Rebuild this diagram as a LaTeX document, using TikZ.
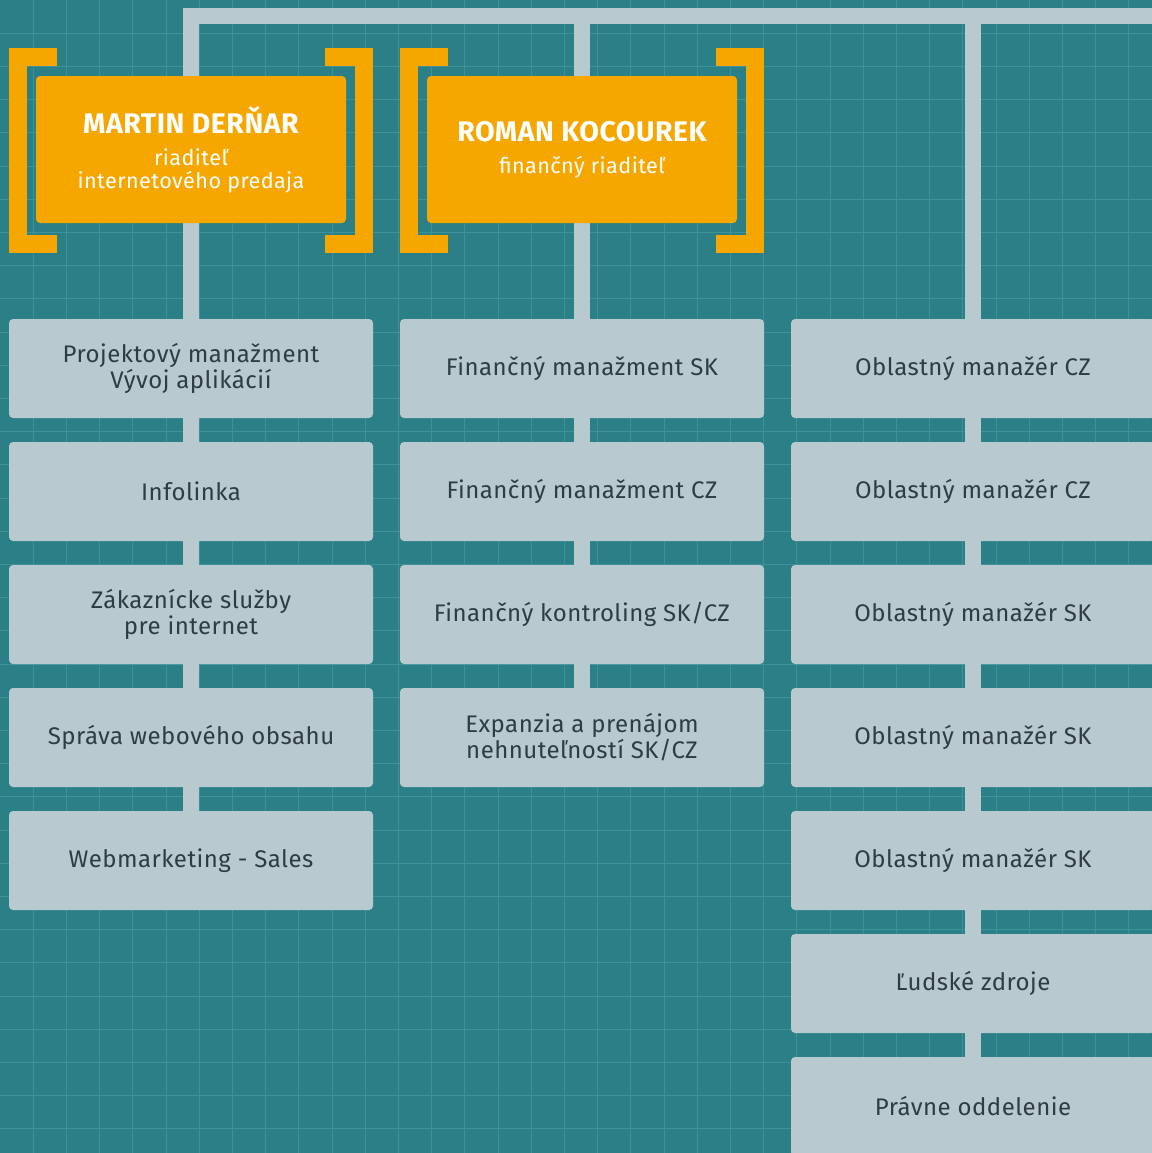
\documentclass[tikz,border=0pt]{standalone}
\usepackage{fontspec}
\usepackage{tikz}
\usetikzlibrary{positioning,backgrounds,calc}
\newfontfamily\unitfont{Fira Sans}[LetterSpace=2]
\definecolor{gridTeal}{HTML}{2B7F87}
\definecolor{gridLine}{HTML}{3F9198}
\definecolor{unitGray}{HTML}{B9C9D0}
\definecolor{headOrange}{HTML}{F5A700}
\definecolor{textDark}{HTML}{2F3C44}
\tikzset{
  unit/.style={fill=unitGray, rounded corners=2pt, minimum width=182pt, minimum height=49.5pt,
    inner sep=0pt, outer sep=0pt, align=center, text=textDark, font=\unitfont\fontsize{12}{13}\selectfont},
  head/.style={fill=headOrange, rounded corners=2pt, minimum width=155pt, minimum height=73.5pt,
    inner sep=0pt, outer sep=0pt, align=center, text=white, font=\unitfont\fontsize{10.8}{11.5}\selectfont},
  link/.style={draw=unitGray, line width=8pt},
  bracket/.style={draw=headOrange, line width=9pt}
}

\begin{document}
\begin{tikzpicture}[x=0.5pt, y=-0.5pt, node distance=12pt]
  \useasboundingbox (0,0) rectangle (1152,1153);
  \clip (0,0) rectangle (1152,1153);

  % Directors
  \node[head] (m1) at (191,149.5) {{\fontsize{14.2}{15}\selectfont\bfseries MARTIN DERŇAR}\\[4.5pt] riaditeľ\\ internetového predaja};
  \node[head] (m2) at (582,149.5) {{\fontsize{14.2}{15}\selectfont\bfseries ROMAN KOCOUREK}\\[4.5pt] finančný riaditeľ};

  \draw[bracket] ($(m1.north west)+(21,-19.5)$) -| ($(m1.south west)+(-18,21)$) -- ++(39,0);
  \draw[bracket] ($(m1.north east)+(-21,-19.5)$) -| ($(m1.south east)+(18,21)$) -- ++(-39,0);
  \draw[bracket] ($(m2.north west)+(21,-19.5)$) -| ($(m2.south west)+(-18,21)$) -- ++(39,0);
  \draw[bracket] ($(m2.north east)+(-21,-19.5)$) -| ($(m2.south east)+(18,21)$) -- ++(-39,0);

  % Internet sales
  \node[unit] (a1) at (191,368.5) {Projektový manažment\\Vývoj aplikácií};
  \node[unit, below=of a1] (a2) {Infolinka};
  \node[unit, below=of a2] (a3) {Zákaznícke služby\\pre internet};
  \node[unit, below=of a3] (a4) {Správa webového obsahu};
  \node[unit, below=of a4] (a5) {Webmarketing - Sales};

  % Finance
  \node[unit] (b1) at (582,368.5) {Finančný manažment SK};
  \node[unit, below=of b1] (b2) {Finančný manažment CZ};
  \node[unit, below=of b2] (b3) {Finančný kontroling SK/CZ};
  \node[unit, below=of b3] (b4) {Expanzia a prenájom\\nehnuteľností SK/CZ};

  % Regions
  \node[unit] (c1) at (973,368.5) {Oblastný manažér CZ};
  \node[unit, below=of c1] (c2) {Oblastný manažér CZ};
  \node[unit, below=of c2] (c3) {Oblastný manažér SK};
  \node[unit, below=of c3] (c4) {Oblastný manažér SK};
  \node[unit, below=of c4] (c5) {Oblastný manažér SK};
  \node[unit, below=of c5] (c6) {Ľudské zdroje};
  \node[unit, below=of c6] (c7) {Právne oddelenie};

  \begin{scope}[on background layer]
    \fill[gridTeal] (0,0) rectangle (1152,1153);
    \foreach \g in {1,...,34} {
      \draw[gridLine, line width=0.5pt] (\g*33.2,0) -- (\g*33.2,1153);
      \draw[gridLine, line width=0.5pt] (0,\g*33.2) -- (1152,\g*33.2);
    }
    \coordinate (bar) at (1160,16);
    \draw[link] (a5) -- (a5 |- bar) -- (bar);
    \draw[link] (b4) -- (b4 |- bar);
    \draw[link] (c7) -- (c7 |- bar);
  \end{scope}
\end{tikzpicture}
\end{document}
